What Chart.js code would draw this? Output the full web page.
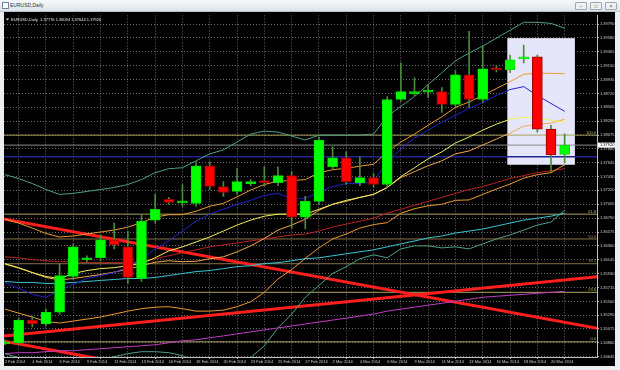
<!DOCTYPE html>
<html><head><meta charset="utf-8">
<script src="https://cdn.jsdelivr.net/npm/chart.js@4"></script>
<style>
html,body{margin:0;padding:0;background:#eceef1;width:620px;height:370px;overflow:hidden;font-family:"Liberation Sans",Arial,sans-serif;}
#titlebar{position:absolute;left:0;top:0;width:620px;height:11px;background:linear-gradient(#f7f8fa,#dfe4ea);border-bottom:1px solid #b9c1ca;}
#titlebar .t{position:absolute;left:10px;top:2px;font-size:5px;color:#333;}
#titlebar .icon{position:absolute;left:2px;top:2px;width:5px;height:5px;border:1px solid #6a86a6;background:#fff;}
.btn{position:absolute;top:2px;width:10px;height:6px;border:1px solid #a0a8b2;background:#eef0f3;border-radius:1px;font-size:5px;line-height:6px;text-align:center;color:#555}
#wrap{position:absolute;left:4px;top:12px;width:611px;height:354px;background:#000;}
canvas{display:block}
</style></head>
<body>
<div id="titlebar"><div class="icon"></div><div class="t">EURUSD,Daily</div>
<div class="btn" style="left:575px">–</div><div class="btn" style="left:590px">□</div><div class="btn" style="left:605px">×</div></div>
<div id="wrap"><canvas id="c" width="611" height="354"></canvas></div>
<script>
// ---- data ----
const barDates = ['2 Feb','3 Feb','4 Feb','5 Feb','6 Feb','7 Feb','9 Feb','10 Feb','11 Feb','12 Feb','13 Feb','14 Feb','16 Feb','17 Feb','18 Feb','19 Feb','20 Feb','21 Feb','23 Feb','24 Feb','25 Feb','26 Feb','27 Feb','28 Feb','2 Mar','3 Mar','4 Mar','5 Mar','6 Mar','7 Mar','9 Mar','10 Mar','11 Mar','12 Mar','13 Mar','14 Mar','16 Mar','17 Mar','18 Mar','19 Mar','20 Mar','21 Mar'];
const open  = [1.34844,1.34860,1.35212,1.35151,1.35334,1.35886,1.36146,1.36176,1.36452,1.36345,1.35855,1.36759,1.37080,1.37027,1.37019,1.37601,1.37279,1.37203,1.37325,1.37371,1.37340,1.37448,1.36805,1.37050,1.37585,1.37723,1.37340,1.37417,1.37310,1.38626,1.38718,1.38741,1.38749,1.38550,1.39009,1.38626,1.39116,1.39086,1.39254,1.39285,1.38167,1.37776];
const high  = [1.34906,1.35242,1.35273,1.35381,1.36085,1.36391,1.36207,1.36529,1.36713,1.36590,1.36835,1.37157,1.37111,1.37310,1.37662,1.37662,1.37356,1.37555,1.37386,1.37585,1.37585,1.37509,1.37126,1.38045,1.37892,1.37815,1.37738,1.37478,1.38672,1.39193,1.38963,1.38856,1.38810,1.39070,1.39683,1.39453,1.39147,1.39315,1.39469,1.39315,1.38228,1.38094];
const low   = [1.34829,1.34829,1.35105,1.35120,1.35304,1.35840,1.36115,1.36130,1.36314,1.35779,1.35809,1.36713,1.37004,1.36973,1.36973,1.37233,1.37126,1.37157,1.37294,1.37294,1.37294,1.36636,1.36621,1.37004,1.37555,1.37310,1.37294,1.37264,1.37264,1.38596,1.38688,1.38657,1.38427,1.38504,1.38504,1.38581,1.39055,1.39040,1.39193,1.38121,1.37509,1.37644];
const close = [1.34875,1.35212,1.35151,1.35334,1.35901,1.36345,1.36176,1.36452,1.36375,1.35871,1.36743,1.36927,1.37034,1.37042,1.37601,1.37279,1.37187,1.37356,1.37356,1.37340,1.37448,1.36805,1.37050,1.37999,1.37723,1.37356,1.37417,1.37310,1.38626,1.38749,1.38749,1.38757,1.38550,1.39009,1.38626,1.39101,1.39086,1.39239,1.39285,1.38167,1.37769,1.37920];

const bbUpper = [1.37463,1.37402,1.37325,1.37233,1.37157,1.37172,1.37203,1.37233,1.37264,1.37310,1.37386,1.37493,1.37555,1.37570,1.37677,1.37784,1.37846,1.37968,1.38091,1.38137,1.38121,1.38060,1.37999,1.38075,1.38075,1.38075,1.38075,1.38091,1.38366,1.38519,1.38672,1.38856,1.39040,1.39224,1.39346,1.39453,1.39576,1.39698,1.39821,1.39821,1.39805,1.39729];
const bbLower = [1.34692,1.34631,1.34569,1.34508,1.34508,1.34539,1.34569,1.34600,1.34646,1.34692,1.34722,1.34722,1.34707,1.34661,1.34569,1.34539,1.34539,1.34569,1.34631,1.34814,1.35090,1.35304,1.35564,1.35748,1.35932,1.36039,1.36161,1.36222,1.36176,1.36314,1.36360,1.36360,1.36329,1.36345,1.36314,1.36391,1.36467,1.36529,1.36605,1.36682,1.36728,1.36912];
const bbMid   = [1.36077,1.36016,1.35947,1.35871,1.35832,1.35855,1.35886,1.35916,1.35954,1.36000,1.36054,1.36107,1.36130,1.36115,1.36122,1.36161,1.36191,1.36268,1.36360,1.36475,1.36605,1.36682,1.36774,1.36912,1.37004,1.37050,1.37111,1.37157,1.37264,1.37417,1.37509,1.37601,1.37677,1.37784,1.37830,1.37922,1.38014,1.38106,1.38213,1.38244,1.38259,1.38320];
const bb1Upper = [1.36774,1.36713,1.36636,1.36552,1.36498,1.36513,1.36544,1.36575,1.36605,1.36651,1.36720,1.36805,1.36843,1.36843,1.36897,1.36973,1.37019,1.37118,1.37225,1.37310,1.37363,1.37371,1.37386,1.37493,1.37539,1.37562,1.37593,1.37624,1.37815,1.37968,1.38091,1.38228,1.38358,1.38504,1.38588,1.38688,1.38795,1.38902,1.39017,1.39032,1.39032,1.39025];
const bb1Lower = [1.35381,1.35319,1.35258,1.35189,1.35166,1.35197,1.35227,1.35258,1.35304,1.35350,1.35388,1.35411,1.35419,1.35388,1.35350,1.35350,1.35365,1.35419,1.35495,1.35641,1.35848,1.35993,1.36168,1.36329,1.36467,1.36544,1.36636,1.36689,1.36720,1.36866,1.36935,1.36981,1.37004,1.37065,1.37072,1.37157,1.37240,1.37317,1.37409,1.37463,1.37493,1.37616];
const maYellow = [1.36085,1.36023,1.35947,1.35886,1.35855,1.35932,1.35978,1.36008,1.36023,1.36054,1.36085,1.36176,1.36283,1.36345,1.36421,1.36498,1.36590,1.36682,1.36759,1.36820,1.36851,1.36851,1.36851,1.36927,1.37004,1.37065,1.37111,1.37157,1.37264,1.37432,1.37570,1.37708,1.37815,1.37953,1.38045,1.38152,1.38244,1.38320,1.38351,1.38335,1.38305,1.38274];
const maBlue = [1.35794,1.35702,1.35610,1.35564,1.35672,1.35763,1.35855,1.35901,1.35947,1.36039,1.36161,1.36314,1.36437,1.36590,1.36743,1.36851,1.36927,1.37004,1.37065,1.37141,1.37172,1.37096,1.37096,1.37187,1.37279,1.37325,1.37325,1.37356,1.37662,1.37861,1.38029,1.38152,1.38274,1.38381,1.38489,1.38581,1.38688,1.38780,1.38825,1.38688,1.38565,1.38443];
const maRed = [1.36191,1.36176,1.36146,1.36130,1.36115,1.36115,1.36100,1.36100,1.36100,1.36100,1.36115,1.36161,1.36207,1.36253,1.36299,1.36345,1.36375,1.36406,1.36437,1.36467,1.36498,1.36529,1.36544,1.36590,1.36651,1.36697,1.36743,1.36789,1.36866,1.36927,1.36988,1.37050,1.37111,1.37172,1.37233,1.37279,1.37340,1.37402,1.37448,1.37493,1.37524,1.37555];
const maCyan = [1.35809,1.35794,1.35794,1.35779,1.35779,1.35794,1.35809,1.35825,1.35840,1.35855,1.35855,1.35871,1.35901,1.35932,1.35962,1.35978,1.36008,1.36039,1.36054,1.36085,1.36100,1.36130,1.36161,1.36176,1.36207,1.36238,1.36268,1.36299,1.36345,1.36391,1.36437,1.36483,1.36513,1.36559,1.36590,1.36621,1.36667,1.36713,1.36759,1.36789,1.36820,1.36866];
const maMagenta = [1.34692,1.34707,1.34707,1.34722,1.34738,1.34738,1.34753,1.34768,1.34784,1.34799,1.34814,1.34829,1.34860,1.34891,1.34906,1.34937,1.34967,1.34998,1.35028,1.35059,1.35090,1.35120,1.35151,1.35181,1.35212,1.35242,1.35273,1.35304,1.35350,1.35381,1.35411,1.35442,1.35472,1.35503,1.35534,1.35564,1.35580,1.35595,1.35610,1.35626,1.35641,1.35656];

// trend lines: [barIndex, price] end points
const trendDown  = [[-1,1.36811],[44,1.35061]];
const trendDown2 = [[-1,1.34920],[44,1.33171]];
const trendUp    = [[-1,1.34946],[44,1.35897]];
// fibonacci levels
const fibNames  = ['0.0','23.6','38.2','50.0','61.8','100.0'];
const fibPrices = [1.34875,1.35641,1.36084,1.36467,1.36851,1.38075];
const supportLine = 1.37738;
const bidPrice = 1.37920;
const boxBars = [36.8,41.75];
const boxPrices = [1.37616,1.39576];
const infoText = 'EURUSD,Daily  1.37776 1.38094 1.37644 1.37920';

const dateTickIdx = [0,2,4,6,8,10,12,14,16,18,20,22,24,26,28,30,32,34,36,38,40];
const dateTickLabels = ['2 Feb 2014','4 Feb 2014','6 Feb 2014','9 Feb 2014','11 Feb 2014','13 Feb 2014','16 Feb 2014','18 Feb 2014','20 Feb 2014','23 Feb 2014','25 Feb 2014','27 Feb 2014','2 Mar 2014','4 Mar 2014','6 Mar 2014','9 Mar 2014','11 Mar 2014','13 Mar 2014','16 Mar 2014','18 Mar 2014','20 Mar 2014'];
const priceTickLabels = ['1.39790','1.39580','1.39365','1.39150','1.38935','1.38720','1.38505','1.38290','1.38075','1.37860','1.37645','1.37430','1.37220','1.37005','1.36790','1.36575','1.36360','1.36145','1.35930','1.35715','1.35500','1.35290','1.35075','1.34860','1.34645'];

// ---- build ----
const FONT = {family:'Liberation Sans, Arial, sans-serif', size:4};
const pts = arr => arr.map((v,i)=>({x:i,y:v}));
const seg = arr => arr.map(p=>({x:p[0],y:p[1]}));
const hline = v => [{x:-1,y:v},{x:44,y:v}];
const isUp = open.map((o,i)=>close[i]>=o);

function lineDs(data, color, width, order){
  return {type:'line', data, borderColor:color, borderWidth:width, pointRadius:0, tension:0, fill:false, order};
}

const datasets = [
  {type:'bar', data: open.map((o,i)=>({x:i,y:[o,close[i]]})), backgroundColor: isUp.map(u=>u?'#00ff00':'#ff0000'),
   borderColor: isUp.map(u=>u?'#00e000':'#9a0000'), borderWidth:1, borderSkipped:false, barThickness:10, grouped:false, minBarLength:2, order:0},
  {type:'bar', data: low.map((l,i)=>({x:i,y:[l,high[i]]})), backgroundColor:'#4a8c3a', borderWidth:0, barThickness:1, grouped:false, order:1},
  lineDs(pts(maBlue),'#2222cc',1,2),
  lineDs(pts(maYellow),'#f4ee5a',1,2),
  lineDs(pts(bbMid),'#f0a850',1,2),
  lineDs(pts(bb1Upper),'#eb9a34',1,2),
  lineDs(pts(bb1Lower),'#eb9a34',1,2),
  lineDs(pts(bbUpper),'#4f9f84',1,2),
  lineDs(pts(bbLower),'#4f9f84',1,2),
  lineDs(pts(maRed),'#b82222',1,2),
  lineDs(pts(maCyan),'#3cc4d4',1,2),
  lineDs(pts(maMagenta),'#c23cc2',1,2),
  lineDs(seg(trendDown),'#ff1e1e',3,3),
  lineDs(seg(trendDown2),'#ff1e1e',3,3),
  lineDs(seg(trendUp),'#ff1e1e',3,3),
  lineDs(hline(supportLine),'#1e2490',1.5,4),
  lineDs(hline(bidPrice),'#8a8a8a',1,4),
];
fibPrices.forEach((p,i)=>{
  const c = (fibNames[i]==='50.0'||fibNames[i]==='38.2') ? '#86744a' : '#a8a25c';
  datasets.push(lineDs(hline(p), c, 1, 4));
});

const overlay = {
  id:'overlay',
  beforeDatasetsDraw(chart){
    const {ctx, chartArea:a, scales:{x,y}} = chart;
    ctx.save();
    ctx.beginPath(); ctx.rect(a.left,a.top,a.right-a.left,a.bottom-a.top); ctx.clip();
    const x0 = x.getPixelForValue(boxBars[0]), x1 = x.getPixelForValue(boxBars[1]);
    const y0 = y.getPixelForValue(boxPrices[1]), y1 = y.getPixelForValue(boxPrices[0]);
    ctx.fillStyle = '#e6e6fa';
    ctx.fillRect(x0,y0,x1-x0,y1-y0);
    ctx.restore();
  },
  afterDraw(chart){
    const {ctx, chartArea:a, scales:{y}, width} = chart;
    ctx.save();
    ctx.font = '4px "Liberation Sans", Arial, sans-serif';
    // fib labels
    ctx.textAlign='right'; ctx.textBaseline='bottom';
    fibPrices.forEach((p,i)=>{
      ctx.fillStyle = (fibNames[i]==='50.0'||fibNames[i]==='38.2') ? '#a89060' : '#b8b264';
      ctx.fillText(fibNames[i], a.right-1, y.getPixelForValue(p)-0.5);
    });
    // info text
    ctx.textAlign='left'; ctx.textBaseline='middle';
    ctx.fillStyle='#e8e8e8';
    ctx.beginPath(); ctx.moveTo(a.left+2,a.top+3); ctx.lineTo(a.left+5,a.top+3); ctx.lineTo(a.left+3.5,a.top+5); ctx.closePath(); ctx.fill();
    ctx.fillText(infoText, a.left+7, a.top+4);
    // bid price tag
    const by = y.getPixelForValue(bidPrice);
    ctx.fillStyle='#ffffff';
    ctx.fillRect(a.right+1, by-2.5, width-a.right-1, 5);
    ctx.fillStyle='#000000';
    ctx.fillText(bidPrice.toFixed(5), a.right+3, by);
    ctx.restore();
  }
};

new Chart(document.getElementById('c'), {
  type:'line',
  data:{datasets},
  plugins:[overlay],
  options:{
    responsive:false, animation:false, devicePixelRatio:1,
    layout:{padding:0},
    plugins:{legend:{display:false}, tooltip:{enabled:false}, title:{display:false}},
    scales:{
      x:{type:'linear', min:-0.073, max:43.37, offset:false,
        afterBuildTicks:s=>{s.ticks = dateTickIdx.map(v=>({value:v}));},
        afterFit:s=>{s.height=9;},
        ticks:{autoSkip:false, maxRotation:0, minRotation:0, align:'start', padding:0, color:'#cfcfcf', font:FONT,
          callback:(v)=>{const k=dateTickIdx.indexOf(v); return k>=0?dateTickLabels[k]:'';}},
        grid:{color:'rgba(120,120,130,0.9)', lineWidth:1, drawTicks:true, tickLength:2, tickColor:'#bbbbbb'},
        border:{display:true, color:'#c0c0c0', width:1, dash:[1,2]}
      },
      y:{type:'linear', position:'right', min:1.3464, max:1.39928,
        afterBuildTicks:s=>{s.ticks = priceTickLabels.map(t=>({value:parseFloat(t)}));},
        afterFit:s=>{s.width=18;},
        ticks:{autoSkip:false, padding:1, color:'#cfcfcf', font:FONT,
          callback:(v,i)=>priceTickLabels[i]},
        grid:{color:'rgba(120,120,130,0.9)', lineWidth:1, drawTicks:true, tickLength:2, tickColor:'#bbbbbb'},
        border:{display:true, color:'#c0c0c0', width:1, dash:[1,2]}
      }
    }
  }
});
</script>
</body></html>
